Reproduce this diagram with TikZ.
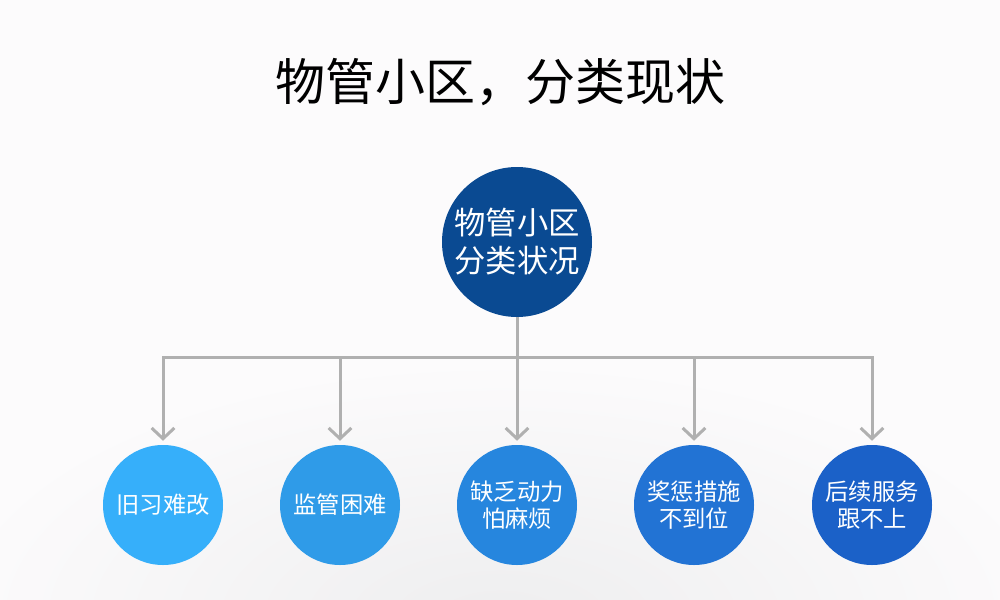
\documentclass[tikz,border=0pt]{standalone}
\usepackage{fontspec}
\setmainfont{Noto Sans CJK SC}
\usetikzlibrary{arrows.meta}
\definecolor{bgc}{HTML}{FCFBFC}
\definecolor{shadec}{HTML}{EEEEEF}
\definecolor{linec}{HTML}{B0B0B0}
\definecolor{cA}{HTML}{36AFFA}
\definecolor{cB}{HTML}{2F9BE8}
\definecolor{cC}{HTML}{2686DE}
\definecolor{cD}{HTML}{2273D4}
\definecolor{cE}{HTML}{1B61C8}
\definecolor{cM}{HTML}{0A4A92}
\tikzset{
  small/.style={circle, minimum size=90pt, inner sep=0pt, text=white, align=center,
    font=\fontsize{17.5}{20.25}\selectfont},
  big/.style={circle, fill=cM, minimum size=112.5pt, inner sep=0pt, text=white, align=center,
    font=\fontsize{23.5}{28.5}\selectfont},
  conn/.style={draw=linec, line width=2.25pt},
  arr/.style={conn, -{Straight Barb[length=8pt, width=17pt, line width=2.25pt]}, shorten >=3pt}
}
\begin{document}
\begin{tikzpicture}[x=0.75pt, y=-0.75pt]
\useasboundingbox (0,0) rectangle (1000,600);
\fill[bgc] (0,0) rectangle (1000,600);
\begin{scope}
\clip (0,0) rectangle (1000,600);
\shade[inner color=shadec, outer color=bgc] (500,620) ellipse (560 and 260);
\end{scope}
\node[font=\fontsize{37.5}{40}\selectfont] (title) at (500,82) {物管小区，分类现状};
\node[big] (ctr) at (517,242) {物管小区\\分类状况};
\node[small, fill=cA] (c1) at (163,505) {旧习难改};
\node[small, fill=cB] (c2) at (340,505) {监管困难};
\node[small, fill=cC] (c3) at (517,505) {缺乏动力\\怕麻烦};
\node[small, fill=cD] (c4) at (694,505) {奖惩措施\\不到位};
\node[small, fill=cE] (c5) at (872,505) {后续服务\\跟不上};
\coordinate (j) at (517,357);
\draw[conn] (ctr.south) -- (j);
\draw[conn, line cap=rect] (c1.north |- j) -- (c5.north |- j);
\foreach \n in {c1,c2,c3,c4,c5} {
  \draw[arr] (\n.north |- j) -- (\n.north);
}
\end{tikzpicture}
\end{document}
